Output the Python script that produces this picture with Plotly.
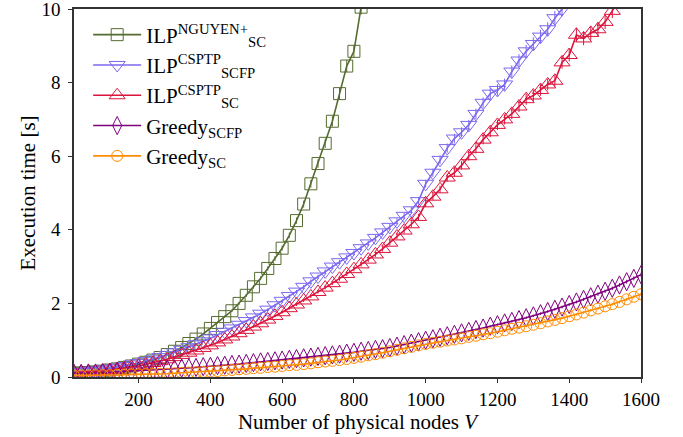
import plotly.graph_objects as go

nodes = [20, 40, 60, 80, 100, 120, 140, 160, 180, 200,
         220, 240, 260, 280, 300, 320, 340, 360, 380, 400,
         420, 440, 460, 480, 500, 520, 540, 560, 580, 600,
         620, 640, 660, 680, 700, 720, 740, 760, 780, 800,
         820, 840, 860, 880, 900, 920, 940, 960, 980, 1000,
         1020, 1040, 1060, 1080, 1100, 1120, 1140, 1160, 1180, 1200,
         1220, 1240, 1260, 1280, 1300, 1320, 1340, 1360, 1380, 1400,
         1420, 1440, 1460, 1480, 1500, 1520, 1540, 1560, 1580, 1600]

ilp_nguyen_sc = [0.10, 0.11, 0.12, 0.14, 0.16, 0.19, 0.22, 0.26, 0.30, 0.35,
                 0.40, 0.46, 0.53, 0.61, 0.70, 0.80, 0.91, 1.03, 1.17, 1.32,
                 1.48, 1.64, 1.80, 2.00, 2.22, 2.45, 2.68, 2.95, 3.22, 3.50,
                 3.85, 4.25, 4.70, 5.25, 5.80, 6.35, 6.95, 7.70, 8.45, 8.85,
                 10.05, 10.90]

ilp_csptp_scfp = [0.13, 0.14, 0.16, 0.18, 0.20, 0.23, 0.26, 0.30, 0.34, 0.38,
                  0.43, 0.48, 0.54, 0.60, 0.67, 0.74, 0.81, 0.89, 0.97, 1.05,
                  1.14, 1.23, 1.32, 1.42, 1.52, 1.62, 1.72, 1.83, 1.95, 2.07,
                  2.20, 2.32, 2.45, 2.60, 2.73, 2.87, 3.00, 3.12, 3.25, 3.37,
                  3.50, 3.63, 3.78, 3.93, 4.08, 4.23, 4.38, 4.53, 4.78, 5.25,
                  5.55, 5.90, 6.22, 6.48, 6.65, 6.85, 7.15, 7.45, 7.70, 7.80,
                  7.95, 8.30, 8.60, 8.85, 9.05, 9.25, 9.45, 9.75, 10.00, 10.30,
                  10.60]

ilp_csptp_sc = [0.12, 0.13, 0.14, 0.15, 0.17, 0.19, 0.21, 0.24, 0.27, 0.30,
                0.34, 0.38, 0.43, 0.48, 0.54, 0.60, 0.66, 0.72, 0.79, 0.86,
                0.94, 1.02, 1.10, 1.19, 1.28, 1.37, 1.46, 1.56, 1.66, 1.76,
                1.87, 1.97, 2.08, 2.19, 2.31, 2.43, 2.55, 2.67, 2.80, 2.93,
                3.06, 3.19, 3.33, 3.48, 3.65, 3.82, 3.98, 4.15, 4.35, 4.72,
                4.90, 5.10, 5.42, 5.55, 5.75, 6.00, 6.20, 6.45, 6.65, 6.85,
                7.00, 7.15, 7.35, 7.55, 7.65, 7.80, 7.95, 8.05, 8.55, 8.75,
                9.30, 9.20, 9.35, 9.45, 9.65, 9.95, 10.30, 10.60]

greedy_scfp = [0.10, 0.10, 0.11, 0.11, 0.12, 0.13, 0.14, 0.15, 0.15, 0.16,
               0.17, 0.19, 0.20, 0.21, 0.22, 0.24, 0.25, 0.26, 0.28, 0.29,
               0.31, 0.32, 0.34, 0.35, 0.37, 0.39, 0.41, 0.42, 0.44, 0.46,
               0.48, 0.50, 0.52, 0.54, 0.56, 0.58, 0.60, 0.62, 0.65, 0.67,
               0.70, 0.72, 0.75, 0.77, 0.80, 0.84, 0.88, 0.92, 0.96, 1.00,
               1.04, 1.08, 1.12, 1.16, 1.20, 1.24, 1.29, 1.33, 1.38, 1.42,
               1.47, 1.51, 1.56, 1.61, 1.66, 1.72, 1.78, 1.84, 1.90, 1.97,
               2.04, 2.11, 2.18, 2.25, 2.33, 2.41, 2.50, 2.59, 2.68, 2.78]

greedy_sc = [0.04, 0.04, 0.04, 0.05, 0.05, 0.05, 0.06, 0.06, 0.07, 0.07,
             0.08, 0.08, 0.09, 0.09, 0.10, 0.11, 0.12, 0.13, 0.14, 0.15,
             0.16, 0.18, 0.19, 0.21, 0.22, 0.24, 0.25, 0.27, 0.28, 0.30,
             0.32, 0.33, 0.35, 0.37, 0.40, 0.42, 0.44, 0.46, 0.49, 0.52,
             0.55, 0.59, 0.62, 0.66, 0.70, 0.74, 0.78, 0.82, 0.86, 0.90,
             0.93, 0.96, 0.99, 1.02, 1.05, 1.09, 1.12, 1.16, 1.19, 1.23,
             1.27, 1.31, 1.34, 1.38, 1.42, 1.46, 1.51, 1.55, 1.60, 1.65,
             1.70, 1.75, 1.81, 1.86, 1.92, 1.98, 2.04, 2.11, 2.18, 2.25]

x_ticks = [200, 400, 600, 800, 1000, 1200, 1400, 1600]
y_ticks = [0, 2, 4, 6, 8, 10]

series = [
    ("ILP<sup>NGUYEN+</sup><sub>SC</sub>", ilp_nguyen_sc, "#556B2F", "square-open", 12),
    ("ILP<sup>CSPTP</sup><sub>SCFP</sub>", ilp_csptp_scfp, "#7B68EE", "triangle-down-open", 14),
    ("ILP<sup>CSPTP</sup><sub>SC</sub>", ilp_csptp_sc, "#DC143C", "triangle-up-open", 14),
    ("Greedy<sub>SCFP</sub>", greedy_scfp, "#800080", "diamond-tall-open", 13),
    ("Greedy<sub>SC</sub>", greedy_sc, "#FF8C00", "circle-open", 11),
]

FONT = "Liberation Serif"

fig = go.Figure()
for name, vals, color, sym, size in series:
    fig.add_trace(go.Scatter(
        x=nodes[:len(vals)], y=vals, name=name, mode="lines+markers",
        line=dict(color=color, width=1.6),
        marker=dict(symbol=sym, size=size, color=color, line=dict(width=1, color=color)),
        error_y=dict(type="percent", value=2, width=0, thickness=1, color=color),
        cliponaxis=True,
    ))

fig.update_layout(
    width=683, height=437,
    margin=dict(l=73.5, r=42, t=8.5, b=60, autoexpand=False),
    paper_bgcolor="white", plot_bgcolor="white",
    font=dict(family=FONT, size=19, color="black"),
    showlegend=True,
    legend=dict(x=0.025, y=0.985, xanchor="left", yanchor="top",
                bgcolor="rgba(255,255,255,0)", borderwidth=0,
                font=dict(family=FONT, size=21), itemwidth=48,
                tracegroupgap=0),
    xaxis=dict(range=[20, 1600], tickvals=x_ticks, ticks="outside", ticklen=4,
               tickcolor="#333", showline=True, linecolor="#333", linewidth=1.5,
               mirror=True, showgrid=False, zeroline=False, automargin=False,
               ticklabeloverflow="allow",
               title=dict(text="Number of physical nodes <i>V</i>", standoff=4,
                          font=dict(family=FONT, size=21)),
               tickfont=dict(family=FONT, size=19)),
    yaxis=dict(range=[0, 10], tickvals=y_ticks, ticks="outside", ticklen=4,
               tickcolor="#333", showline=True, linecolor="#333", linewidth=1.5,
               mirror=True, showgrid=False, zeroline=False, automargin=False,
               ticklabelstandoff=4, ticklabeloverflow="allow",
               title=dict(text="Execution time [s]", standoff=0,
                          font=dict(family=FONT, size=21)),
               tickfont=dict(family=FONT, size=19)),
)

fig.write_html("out.html")
